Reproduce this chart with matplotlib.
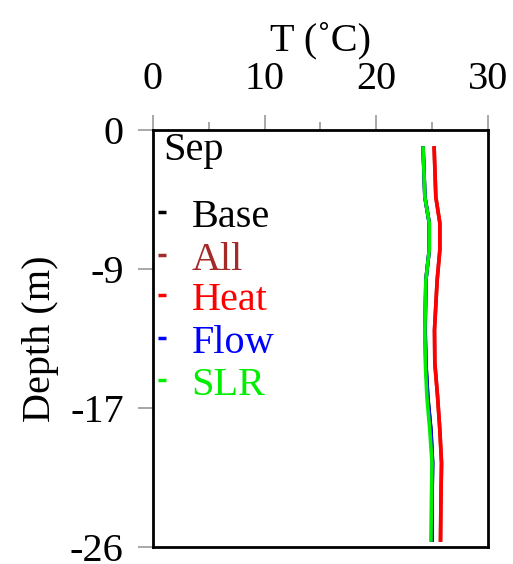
import numpy as np
import matplotlib.pyplot as plt
from matplotlib.ticker import MultipleLocator

plt.rcParams['font.family'] = ['Liberation Serif', 'DejaVu Serif']

# model depths (m) and September temperature profiles (deg C)
depth = [-1.12, -4.18, -5.80, -7.48, -9.35, -12.47, -14.53, -16.65, -18.71, -20.76, -22.88, -25.56]
t_base = [24.20, 24.36, 24.75, 24.75, 24.45, 24.38, 24.45, 24.62, 24.90, 25.05, 25.00, 25.00]
t_all = [25.19, 25.34, 25.70, 25.70, 25.46, 25.22, 25.25, 25.50, 25.70, 25.85, 25.80, 25.76]
t_heat = [25.19, 25.34, 25.70, 25.70, 25.46, 25.22, 25.25, 25.50, 25.70, 25.85, 25.80, 25.76]
t_flow = [24.20, 24.36, 24.75, 24.75, 24.45, 24.38, 24.45, 24.62, 24.90, 25.05, 25.00, 25.00]
t_slr = [24.20, 24.36, 24.75, 24.75, 24.45, 24.36, 24.40, 24.54, 24.80, 25.00, 24.95, 24.90]

names = ['Base', 'All', 'Heat', 'Flow', 'SLR']
colors = ['black', '#a52a2a', 'red', 'blue', '#00ee00']
profiles = [t_base, t_all, t_heat, t_flow, t_slr]
month = 'Sep'

fs = 29

fig = plt.figure(figsize=(5.13, 5.64), dpi=100)
ax = fig.add_axes([0.298, 0.030, 0.653, 0.7395])

for t, c in zip(profiles, colors):
    ax.plot(t, depth, color=c, lw=2.6)

ax.set_xlim(0, 30)
ax.set_ylim(-26, 0)
ax.xaxis.tick_top()
ax.xaxis.set_label_position('top')
ax.set_xticks([0, 10, 20, 30])
ax.xaxis.set_minor_locator(MultipleLocator(5))
yt = np.linspace(0, -26, 4)
ax.set_yticks(yt)
ax.set_yticklabels(['%d' % round(v) for v in yt])
ax.tick_params(which='major', direction='out', length=11, width=1.2,
               color='#999999', labelsize=fs)
ax.tick_params(axis='x', which='major', pad=12)
ax.tick_params(axis='y', which='major', pad=10)
ax.tick_params(which='minor', direction='out', length=6, width=1.2, color='#999999')
ax.tick_params(axis='y', which='minor', left=False)
for s in ax.spines.values():
    s.set_linewidth(2.0)

ax.set_xlabel('T (\u02daC)', fontsize=fs, labelpad=8)
ax.set_ylabel('Depth (m)', fontsize=fs, labelpad=8)

# legend drawn as coloured text with a short dash in front
ax.text(0.03, 0.952, month, transform=ax.transAxes, fontsize=fs, va='center')
rows = [0.791, 0.688, 0.592, 0.489, 0.388]
for n, c, y in zip(names, colors, rows):
    ax.plot([0.027], [y + 0.012], marker='_', ms=6, mew=2.5, color=c,
            transform=ax.transAxes, clip_on=False)
    ax.text(0.116, y, n, color=c, transform=ax.transAxes, fontsize=fs, va='center')

fig.savefig('out.png', dpi=100)
